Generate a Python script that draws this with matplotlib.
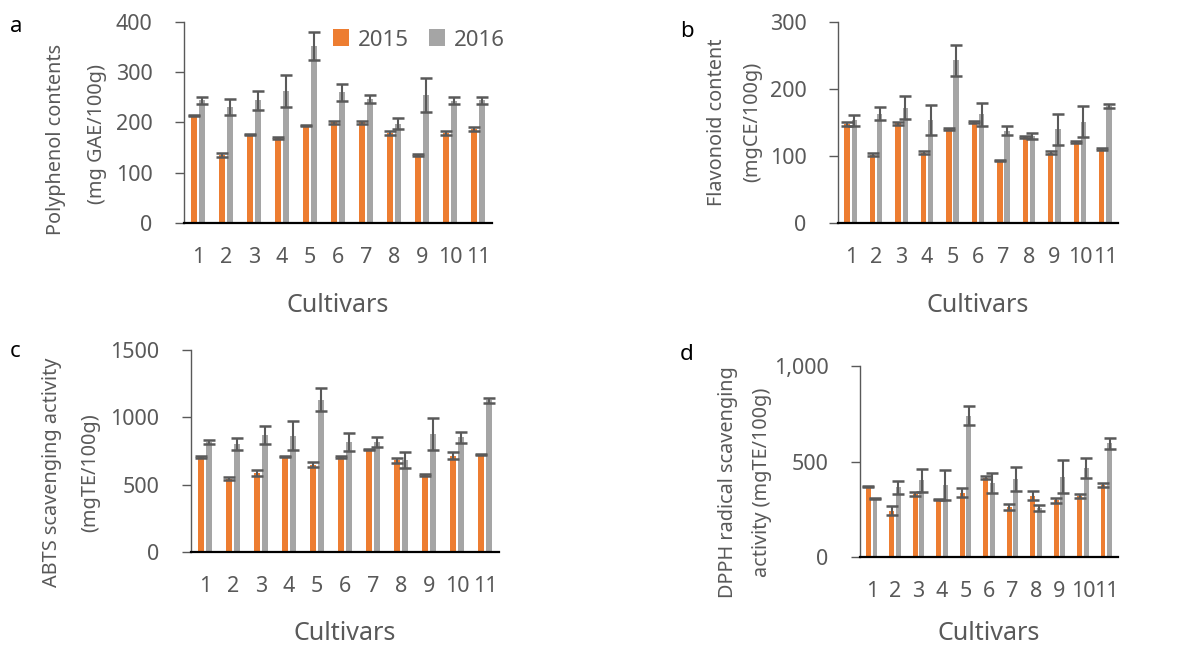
import numpy as np
import matplotlib
matplotlib.use('Agg')
import matplotlib.pyplot as plt
from matplotlib.ticker import FuncFormatter

plt.rcParams['font.family'] = ['Noto Sans', 'DejaVu Sans']

cultivars = ['1', '2', '3', '4', '5', '6', '7', '8', '9', '10', '11']
years = ['2015', '2016']

# a - polyphenol
poly_2015 = [213, 135, 177, 169, 194, 200, 200, 180, 135, 180, 188]
poly_2015_err = [1, 4, 1, 2, 1, 2, 2, 4, 2, 4, 4]
poly_2016 = [244, 230, 244, 263, 352, 260, 246, 198, 255, 243, 244]
poly_2016_err = [7, 16, 19, 32, 28, 17, 8, 11, 34, 7, 7]

# b - flavonoid
flav_2015 = [148, 102, 149, 105, 140, 151, 93, 128, 105, 121, 110]
flav_2015_err = [3, 2, 2, 2, 1.5, 1.5, 1, 1.5, 2, 1.5, 1.5]
flav_2016 = [153, 163, 172, 154, 243, 162, 138, 130, 140, 151, 174]
flav_2016_err = [8.5, 10, 17, 22, 23, 17, 7, 5, 23, 23, 3]

# c - ABTS
abts_2015 = [705, 544, 584, 710, 648, 705, 760, 680, 571, 713, 723]
abts_2015_err = [6, 10, 22, 3, 17, 8, 3, 17, 10, 26, 3]
abts_2016 = [817, 802, 866, 864, 1130, 817, 817, 683, 874, 852, 1127]
abts_2016_err = [17, 43, 66, 108, 86, 67, 37, 60, 118, 40, 20]

# d - DPPH
dpph_2015 = [367, 243, 329, 303, 337, 416, 262, 321, 297, 320, 377]
dpph_2015_err = [3, 24, 10, 2, 24, 7, 17, 24, 12, 12, 9]
dpph_2016 = [306, 365, 401, 378, 740, 388, 409, 256, 420, 464, 595]
dpph_2016_err = [2, 33, 59, 80, 50, 51, 63, 15, 87, 53, 30]

ORANGE = '#ED7D31'
GRAY = '#A5A5A5'
TXT = '#595959'

W, H = 1184, 645
fig = plt.figure(figsize=(W / 100, H / 100), dpi=100)


def px_axes(left, right, top, bottom):
    return fig.add_axes([left / W, 1 - bottom / H, (right - left) / W, (bottom - top) / H])


def panel(ax, v15, e15, v16, e16, ymax, step, fmt=None):
    x = np.arange(len(cultivars))
    w = 0.21
    off = 0.14
    ax.bar(x - off, v15, w, color=ORANGE, label=years[0], zorder=2)
    ax.bar(x + off, v16, w, color=GRAY, label=years[1], zorder=2)
    ax.errorbar(x - off, v15, yerr=e15, fmt='none', ecolor=TXT, elinewidth=1.5,
                capsize=4.4, capthick=1.8, zorder=3)
    ax.errorbar(x + off, v16, yerr=e16, fmt='none', ecolor=TXT, elinewidth=1.5,
                capsize=4.4, capthick=1.8, zorder=3)
    ax.set_xlim(-0.5, len(cultivars) - 0.5)
    ax.set_ylim(0, ymax)
    ax.set_yticks(np.arange(0, ymax + 1, step))
    if fmt is not None:
        ax.yaxis.set_major_formatter(FuncFormatter(fmt))
    ax.set_xticks(x)
    ax.set_xticklabels(cultivars)
    for s in ['top', 'right']:
        ax.spines[s].set_visible(False)
    ax.spines['left'].set_color(TXT)
    ax.spines['left'].set_linewidth(1)
    ax.spines['bottom'].set_color('black')
    ax.spines['bottom'].set_linewidth(1.6)
    ax.spines['bottom'].set_zorder(4)
    ax.tick_params(axis='x', length=0, pad=17, labelsize=15.5, labelcolor=TXT)
    ax.tick_params(axis='y', direction='out', length=6.7, width=1, color=TXT,
                   pad=16, labelsize=15.5, labelcolor=TXT)


ax_a = px_axes(184, 492, 22, 223)
panel(ax_a, poly_2015, poly_2015_err, poly_2016, poly_2016_err, 400, 100)
ax_a.legend(ncol=2, frameon=False, loc='center', bbox_to_anchor=(419 / W, 1 - 40 / H),
            bbox_transform=fig.transFigure, handlelength=0.72, handleheight=0.8,
            handletextpad=0.4, columnspacing=0.9, fontsize=16, labelcolor=TXT)

ax_b = px_axes(838, 1118, 22, 223)
panel(ax_b, flav_2015, flav_2015_err, flav_2016, flav_2016_err, 300, 100)

ax_c = px_axes(191, 499, 350, 552)
panel(ax_c, abts_2015, abts_2015_err, abts_2016, abts_2016_err, 1500, 500)

ax_d = px_axes(860, 1118, 366, 557)
panel(ax_d, dpph_2015, dpph_2015_err, dpph_2016, dpph_2016_err, 1000, 500,
      fmt=lambda v, p: '{:,.0f}'.format(v))


def ftext(xp, yp, s, **kw):
    fig.text(xp / W, 1 - yp / H, s, **kw)


# panel letters
for lx, ly, s in [(10, 32, 'a'), (680, 37, 'b'), (10, 357, 'c'), (680, 360, 'd')]:
    ftext(lx, ly, s, fontsize=16, color='black', ha='left', va='baseline')

# y labels (two lines each)
ylab = dict(rotation=90, ha='center', va='center', fontsize=14.3, color=TXT)
ftext(56, 139, 'Polyphenol contents', **ylab)
ftext(97, 134, '(mg GAE/100g)', **ylab)
ftext(717, 122, 'Flavonoid content', **ylab)
ftext(752, 122, '(mgCE/100g)', **ylab)
ftext(52, 472, 'ABTS scavenging activity', **ylab)
ftext(90, 473, '(mgTE/100g)', **ylab)
ftext(728, 482, 'DPPH radical scavenging', **ylab)
ftext(762, 482, 'activity (mgTE/100g)', **ylab)

# x labels
xlab = dict(ha='center', va='baseline', fontsize=18, color=TXT)
ftext(338, 312, 'Cultivars', **xlab)
ftext(978, 312, 'Cultivars', **xlab)
ftext(345, 640, 'Cultivars', **xlab)
ftext(989, 640, 'Cultivars', **xlab)

plt.savefig('out.png', dpi=100)
